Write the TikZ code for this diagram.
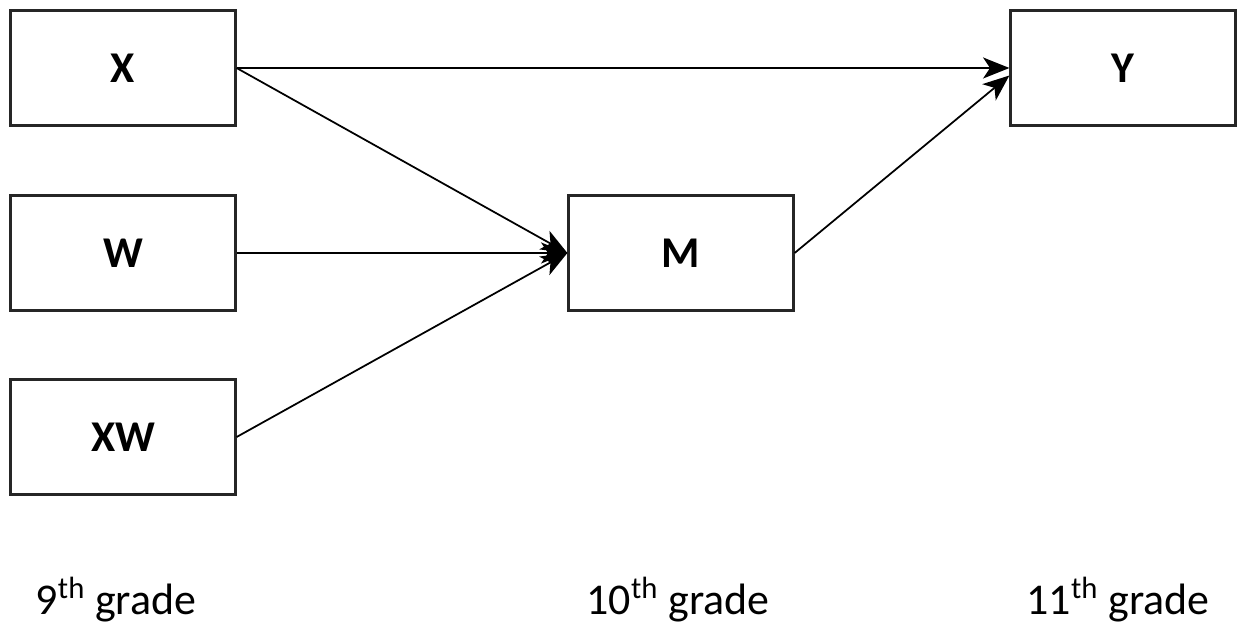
\documentclass[tikz,border=0pt]{standalone}
\usepackage{fontspec}
\setmainfont{Carlito}
\usetikzlibrary{arrows.meta}

\tikzset{
  var/.style={draw=black!85, line width=1.3pt, minimum width=4.5cm, minimum height=2.3cm,
    inner sep=0pt, font=\fontsize{25}{28}\selectfont\bfseries},
  path/.style={line width=1pt, -{Stealth[length=15pt, width=12pt, inset=4pt]}},
  grade/.style={font=\fontsize{25}{28}\selectfont}
}

\begin{document}
\begin{tikzpicture}[x=0.02cm, y=-0.02cm]
				\useasboundingbox (0,0) rectangle (1242,628);
				% Boxes
				\node[var] (x) at (123,68) {X};
				\node[var] (w) at (123,253) {W};
				\node[var] (xw) at (123,437) {XW};
				\node[var] (m) at (681,253) {M};
				\node[var] (y) at (1123,68) {Y};
				% Paths
				\draw[path] (x.east) -- (y.west);
				\draw[path] (x.east) -- (m.west);
				\draw[path] (w.east) -- (m.west);
				\draw[path] (xw.east) -- (m.west);
				\draw[path] (m.east) -- ([yshift=-0.15cm]y.west);
				% Grade labels
				\node[grade] (g9) at (116,600) {9\textsuperscript{th} grade};
				\node[grade] (g10) at (678,600) {10\textsuperscript{th} grade};
				\node[grade] (g11) at (1118,600) {11\textsuperscript{th} grade};
			\end{tikzpicture}
\end{document}
